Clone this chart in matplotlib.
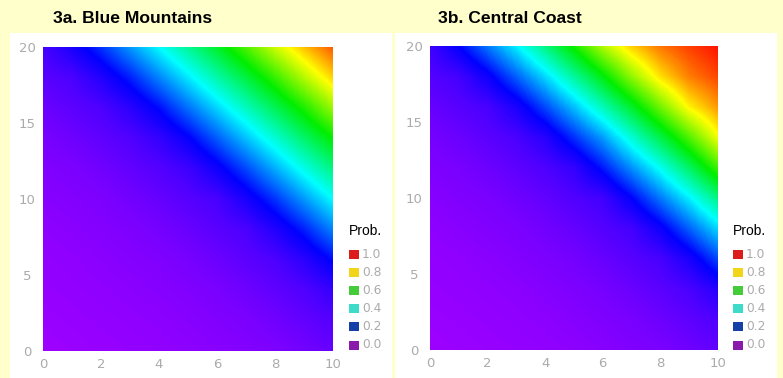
import numpy as np
import matplotlib.pyplot as plt
from matplotlib.colors import LinearSegmentedColormap
from matplotlib.patches import Rectangle

# grid nodes (x: 0..10, y: 20..0, top row first)
x_vals = [0, 1, 2, 3, 4, 5, 6, 7, 8, 9, 10]
y_vals = [20, 18, 16, 14, 12, 10, 8, 6, 4, 2, 0]

# 3a. Blue Mountains - probabilities
prob_a = [
    [0.110, 0.170, 0.240, 0.320, 0.400, 0.483, 0.567, 0.660, 0.760, 0.849, 0.930],
    [0.086, 0.106, 0.158, 0.224, 0.304, 0.384, 0.467, 0.550, 0.640, 0.740, 0.833],
    [0.064, 0.082, 0.102, 0.146, 0.208, 0.288, 0.368, 0.450, 0.533, 0.620, 0.720],
    [0.046, 0.061, 0.078, 0.098, 0.134, 0.194, 0.272, 0.352, 0.433, 0.517, 0.600],
    [0.035, 0.043, 0.058, 0.074, 0.094, 0.122, 0.182, 0.256, 0.336, 0.417, 0.500],
    [0.027, 0.033, 0.040, 0.055, 0.070, 0.090, 0.110, 0.170, 0.240, 0.320, 0.400],
    [0.019, 0.025, 0.032, 0.039, 0.052, 0.067, 0.086, 0.106, 0.158, 0.224, 0.304],
    [0.014, 0.018, 0.024, 0.031, 0.037, 0.049, 0.064, 0.082, 0.102, 0.146, 0.208],
    [0.010, 0.014, 0.018, 0.023, 0.029, 0.036, 0.046, 0.061, 0.078, 0.098, 0.134],
    [0.005, 0.009, 0.013, 0.017, 0.021, 0.028, 0.035, 0.043, 0.058, 0.074, 0.094],
    [0.000, 0.004, 0.008, 0.012, 0.016, 0.020, 0.027, 0.033, 0.040, 0.055, 0.070],
]

# 3b. Central Coast
prob_b = [
    [0.120, 0.200, 0.295, 0.390, 0.500, 0.613, 0.738, 0.838, 0.907, 0.950, 0.985],
    [0.093, 0.116, 0.184, 0.276, 0.371, 0.478, 0.589, 0.713, 0.823, 0.900, 0.945],
    [0.069, 0.089, 0.111, 0.168, 0.257, 0.352, 0.456, 0.567, 0.688, 0.808, 0.880],
    [0.051, 0.066, 0.084, 0.107, 0.152, 0.238, 0.324, 0.433, 0.544, 0.663, 0.790],
    [0.038, 0.048, 0.063, 0.080, 0.102, 0.136, 0.219, 0.314, 0.411, 0.522, 0.650],
    [0.028, 0.037, 0.045, 0.060, 0.075, 0.098, 0.120, 0.200, 0.295, 0.390, 0.500],
    [0.019, 0.027, 0.035, 0.043, 0.057, 0.072, 0.093, 0.116, 0.184, 0.276, 0.371],
    [0.014, 0.018, 0.025, 0.033, 0.042, 0.054, 0.069, 0.089, 0.111, 0.168, 0.257],
    [0.010, 0.014, 0.018, 0.023, 0.031, 0.040, 0.051, 0.066, 0.084, 0.107, 0.152],
    [0.005, 0.009, 0.013, 0.017, 0.022, 0.030, 0.038, 0.048, 0.063, 0.080, 0.102],
    [0.000, 0.004, 0.008, 0.012, 0.016, 0.020, 0.028, 0.037, 0.045, 0.060, 0.075],
]

titles = ['3a. Blue Mountains', '3b. Central Coast']
x_ticks = [0, 2, 4, 6, 8, 10]
y_ticks = [0, 5, 10, 15, 20]
legend_labels = ['1.0', '0.8', '0.6', '0.4', '0.2', '0.0']
legend_colors = ['#dd1c1c', '#f2d41a', '#44cc3a', '#3ddcc8', '#1540a8', '#8a1aac']

cmap = LinearSegmentedColormap.from_list('prob', [
    (0.0, '#9c00ff'), (0.2, '#0000ff'), (0.4, '#00ffff'),
    (0.6, '#00ee00'), (0.8, '#ffff00'), (1.0, '#ff0000')])

W, H = 783, 378
fig = plt.figure(figsize=(W / 100, H / 100), dpi=100, facecolor='#ffffcc')


def fx(px):  # pixel -> figure fraction
    return px / W


def fy(py):
    return 1 - py / H


# panel layout in pixels: white box, plot area, title x, legend x
panels = [
    dict(box=(10, 33, 392), area=(43, 47, 333, 351), tx=53, lx=349),
    dict(box=(395, 33, 777), area=(430, 46, 718, 350), tx=438, lx=733),
]

for i, p in enumerate(panels):
    bx0, by0, bx1 = p['box']
    fig.patches.append(Rectangle((fx(bx0), 0), fx(bx1) - fx(bx0), fy(by0),
                                 transform=fig.transFigure, facecolor='white',
                                 edgecolor='none', zorder=-10))
    fig.text(fx(p['tx']), fy(23), titles[i], fontsize=12.6, fontweight='bold',
             family='Liberation Sans', ha='left', va='baseline')

    x0, y0, x1, y1 = p['area']
    ax = fig.add_axes([fx(x0), fy(y1), (x1 - x0) / W, (y1 - y0) / H])
    ax.set_zorder(1)
    data = np.array(prob_a if i == 0 else prob_b)
    # node values sit on pixel centres; half a cell is clipped off each edge
    dx = (x_vals[1] - x_vals[0]) / 2
    dy = (y_vals[0] - y_vals[1]) / 2
    ax.imshow(data, cmap=cmap, vmin=0, vmax=1, origin='upper', aspect='auto',
              interpolation='bilinear',
              extent=(x_vals[0] - dx, x_vals[-1] + dx, y_vals[-1] - dy, y_vals[0] + dy))
    ax.set_xlim(0, 10)
    ax.set_ylim(0, 20)
    ax.set_xticks(x_ticks)
    ax.set_yticks(y_ticks)
    ax.tick_params(length=0, labelsize=9.5, labelcolor='#ababab')
    ax.tick_params(axis='y', pad=11.5)
    ax.tick_params(axis='x', pad=5)
    for lbl in ax.get_yticklabels():
        lbl.set_ha('center')
    for s in ax.spines.values():
        s.set_visible(False)

    # legend
    lx = p['lx']
    fig.text(fx(lx), fy(231), 'Prob.', fontsize=10, family='Liberation Sans',
             ha='left', va='center')
    for j, (lab, col) in enumerate(zip(legend_labels, legend_colors)):
        yc = 254 + j * 18.2
        fig.patches.append(Rectangle((fx(lx), fy(yc + 4.5)), 10 / W, 9 / H,
                                     transform=fig.transFigure, facecolor=col,
                                     edgecolor='none', zorder=2))
        fig.text(fx(lx + 13), fy(yc), lab, fontsize=8.8, color='#ababab',
                 ha='left', va='center')

fig.savefig('out.png', dpi=100, facecolor=fig.get_facecolor())
